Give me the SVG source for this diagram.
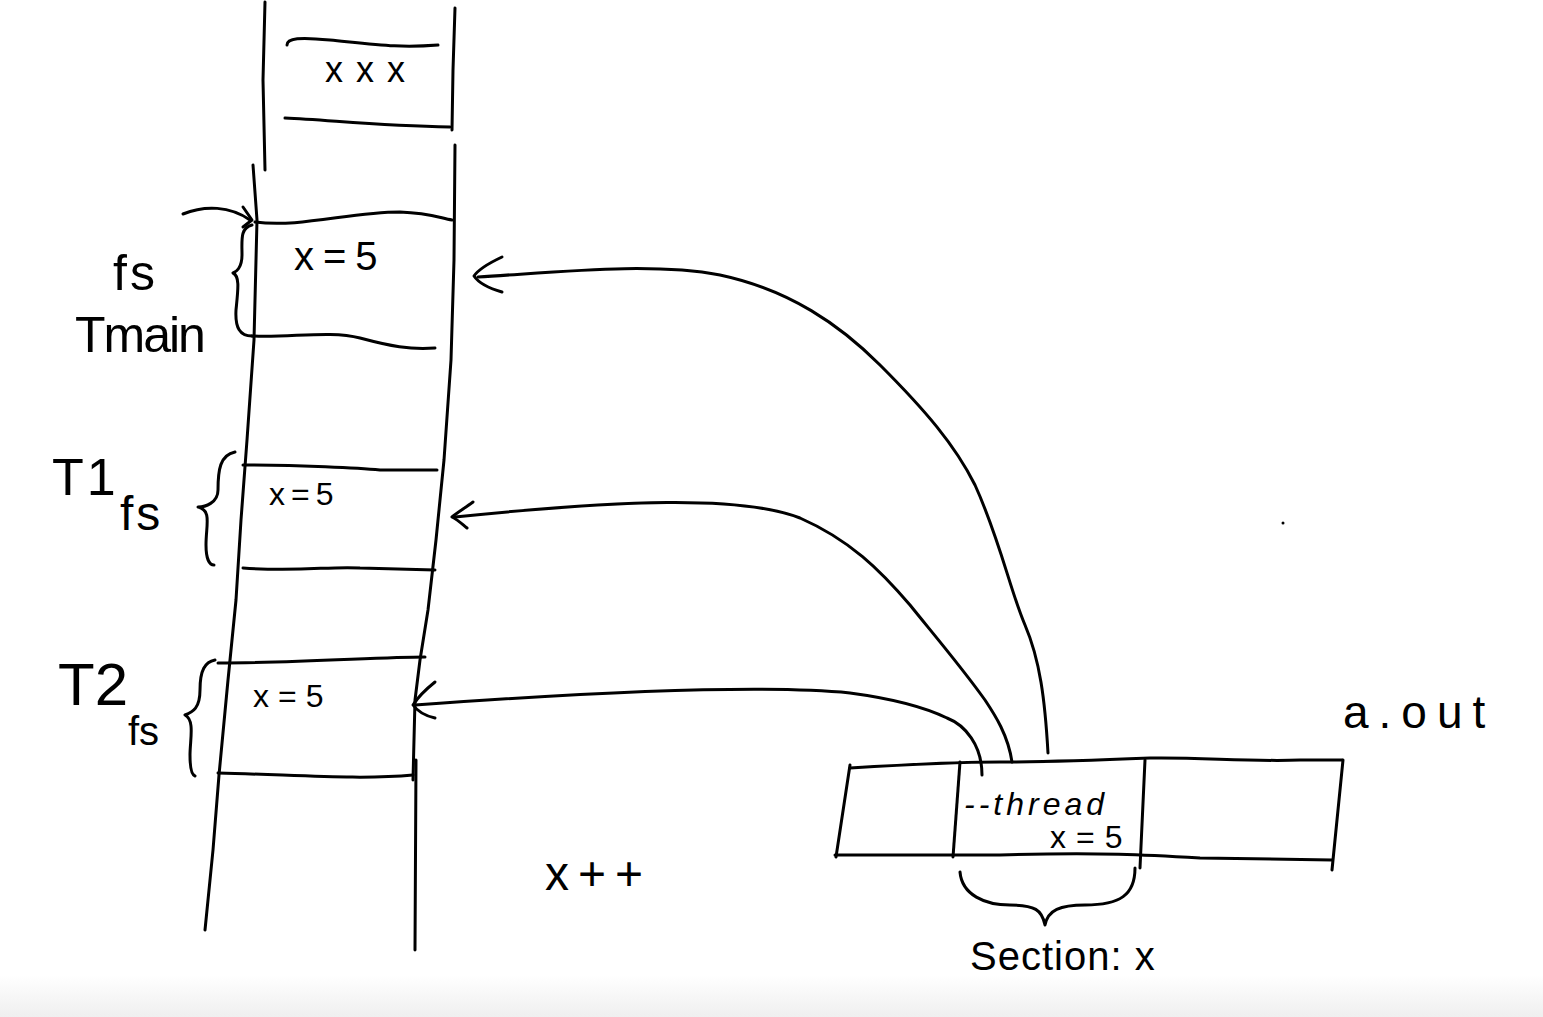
<svg xmlns="http://www.w3.org/2000/svg" width="1543" height="1017" viewBox="0 0 1543 1017">
<defs>
<linearGradient id="bg" x1="0" y1="0" x2="0" y2="1">
<stop offset="0" stop-color="#ffffff"/>
<stop offset="1" stop-color="#efefef"/>
</linearGradient>
<style>
.s{fill:none;stroke:#000;stroke-width:3;stroke-linecap:round;stroke-linejoin:round}
.t{font-family:"Liberation Sans","DejaVu Sans",sans-serif;fill:#000}
.i{font-style:italic}
</style>
</defs>
<rect x="0" y="0" width="1543" height="1017" fill="#fff"/>
<rect x="0" y="975" width="1543" height="42" fill="url(#bg)"/>

<g id="stack">
<path class="s" d="M265,2 L263,80 L265,170"/>
<path class="s" d="M455,8 L453,70 L452,130"/>
<path class="s" d="M253,165 L257,220 L254,340 L247,440 L241,520 L236,600 L228,680 L219,775 L213,850 L205,930"/>
<path class="s" d="M455,145 L454,260 L451,360 L444,460 L436,540 L428,610 L420,660 L415,700 L413,780"/>
<path class="s" d="M416,760 L415,950"/>
</g>

<g id="box-top">
<path class="s" d="M287,45 C287,38 300,37 330,40 C380,45 400,48 438,45"/>
<path class="s" d="M285,118 C330,120 380,126 450,127"/>
<text class="t" x="325" y="82" font-size="36" letter-spacing="13">xxx</text>
</g>

<g id="tmain">
<path class="s" d="M255,222 C300,228 350,212 400,212 C430,213 440,218 452,220"/>
<path class="s" d="M252,336 C290,338 330,330 360,338 C390,346 410,350 435,348"/>
<text class="t" x="294" y="270" font-size="40" letter-spacing="9">x=5</text>
<path class="s" d="M252,225 C240,228 242,240 242,255 C242,268 236,272 233,273 C240,276 238,290 236,310 C235,328 240,336 252,336"/>
<path class="s" d="M183,214 C205,205 230,206 250,220"/>
<path class="s" d="M243,207 L252,220 L243,227"/>
<text class="t" x="113" y="290" font-size="50" letter-spacing="3">fs</text>
<text class="t" x="75" y="352" font-size="50" letter-spacing="-2">Tmain</text>
</g>

<g id="t1">
<path class="s" d="M243,465 C300,465 360,468 380,470 L437,470"/>
<path class="s" d="M243,568 C300,572 330,566 360,568 L435,570"/>
<text class="t" x="269" y="505" font-size="32" letter-spacing="6">x=5</text>
<path class="s" d="M235,452 C220,455 218,470 218,490 C218,503 205,507 198,507 C212,510 206,525 206,545 C206,560 210,565 214,565"/>
<text class="t" x="52" y="495" font-size="52" letter-spacing="3">T1</text>
<text class="t" x="120" y="530" font-size="48" letter-spacing="3">fs</text>
</g>

<g id="t2">
<path class="s" d="M218,663 C300,663 380,657 425,657"/>
<path class="s" d="M218,773 C300,775 360,780 413,775"/>
<text class="t" x="253" y="707" font-size="32" letter-spacing="9">x=5</text>
<path class="s" d="M215,660 C205,662 200,670 200,690 C200,708 193,712 185,715 C195,720 190,740 190,755 C190,770 192,775 195,776"/>
<text class="t" x="58" y="705" font-size="60">T2</text>
<text class="t" x="128" y="745" font-size="40">fs</text>
</g>

<g id="aout">
<path class="s" d="M850,768 C900,765 950,762 1000,762 C1050,762 1100,760 1150,758 C1200,757 1250,762 1300,760 L1342,760"/>
<path class="s" d="M835,855 L1000,855 C1100,852 1150,855 1200,858 L1332,860"/>
<path class="s" d="M850,765 L836,857"/>
<path class="s" d="M1343,760 L1332,870"/>
<path class="s" d="M960,762 L953,857"/>
<path class="s" d="M1145,760 L1140,868"/>
<text class="t i" x="964" y="815" font-size="32" letter-spacing="4">--thread</text>
<text class="t" x="1050" y="848" font-size="32" letter-spacing="10">x=5</text>
<text class="t" x="1343" y="728" font-size="46" letter-spacing="10">a.out</text>
</g>

<g id="section">
<path class="s" d="M960,872 C962,895 985,905 1010,905 C1035,905 1042,910 1045,925 C1048,910 1060,905 1085,905 C1120,905 1135,895 1135,868"/>
<text class="t" x="970" y="970" font-size="40" letter-spacing="1">Section: x</text>
</g>

<g id="xpp">
<text class="t" x="545" y="890" font-size="48" letter-spacing="9">x++</text>
</g>

<g id="connectors">
<path class="s" d="M1048,753 C1045,700 1040,660 1025,625 C1010,590 1000,540 975,485 C955,445 925,410 880,365 C840,325 790,290 720,275 C650,262 560,272 478,277"/>
<path class="s" d="M502,257 C485,265 478,270 474,276 C478,282 488,288 502,292"/>
<path class="s" d="M1012,762 C1008,735 995,715 985,700 C960,665 930,630 910,605 C880,570 850,540 800,518 C740,495 620,500 455,517"/>
<path class="s" d="M473,502 C465,508 458,512 452,517 C458,520 462,524 467,528"/>
<path class="s" d="M982,775 C982,745 965,725 947,718 C920,705 880,697 850,693 C780,686 650,688 415,705"/>
<path class="s" d="M435,682 C425,690 418,697 413,705 C418,712 426,716 435,718"/>
</g>

<circle cx="1283" cy="523" r="1.5" fill="#000"/>
</svg>
